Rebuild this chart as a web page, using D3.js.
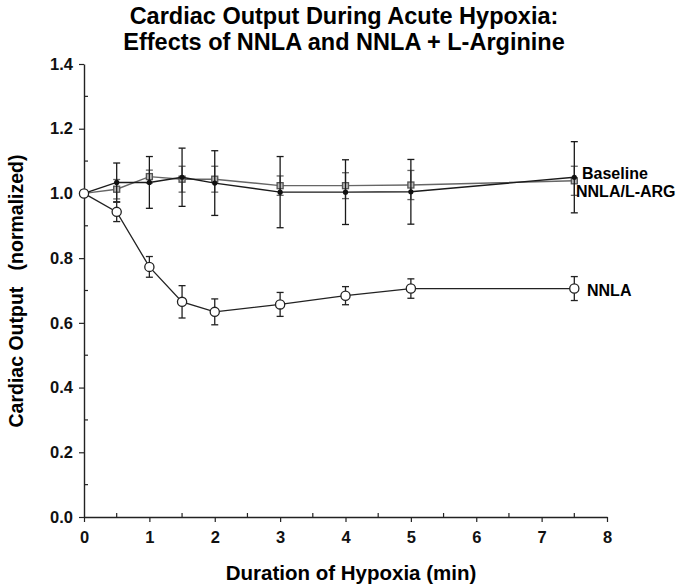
<!DOCTYPE html>
<html><head><meta charset="utf-8">
<script src="https://cdn.jsdelivr.net/npm/d3@7"></script>
<style>body{margin:0;background:#fff}svg{font-family:"Liberation Sans",Arial,sans-serif;font-weight:bold}</style>
</head><body><svg id="c" width="685" height="588"></svg>
<script>
const times = [0, 0.5, 1, 1.5, 2, 3, 4, 5, 7.5];
const baseline = [1.0, 1.034, 1.034, 1.05, 1.032, 1.004, 1.004, 1.005, 1.05];
const baselineErr = [0, 0.06, 0.08, 0.09, 0.10, 0.11, 0.10, 0.10, 0.11];
const nnlaLarg = [1.0, 1.013, 1.052, 1.044, 1.044, 1.024, 1.024, 1.026, 1.039];
const nnlaLargErr = [0, 0.03, 0.02, 0.04, 0.04, 0.03, 0.04, 0.045, 0.045];
const nnla = [1.0, 0.943, 0.773, 0.665, 0.634, 0.657, 0.684, 0.706, 0.706];
const nnlaErr = [0, 0.03, 0.032, 0.05, 0.04, 0.037, 0.028, 0.03, 0.037];
const xTicks = [0,1,2,3,4,5,6,7,8];
const yTicks = [0,0.2,0.4,0.6,0.8,1.0,1.2,1.4];
const titleLines = ["Cardiac Output During Acute Hypoxia:", "Effects of NNLA and NNLA + L-Arginine"];

const svg = d3.select("#c");
const x = d3.scaleLinear().domain([0,8]).range([84,607]);
const y = d3.scaleLinear().domain([0,1.4]).range([517,64]);

// title
svg.selectAll("text.title").data(titleLines).enter().append("text")
  .attr("x",344).attr("y",(d,i)=>24+i*25.5).attr("text-anchor","middle")
  .attr("font-size",23.5).text(d=>d);

// axes
const xAxis = svg.append("g").attr("transform","translate(0,517)")
  .call(d3.axisBottom(x).tickValues(xTicks).tickFormat(d3.format("d")).tickSize(5).tickSizeOuter(0));
const yAxis = svg.append("g").attr("transform","translate(84,0)")
  .call(d3.axisLeft(y).tickValues(yTicks).tickFormat(d3.format(".1f")).tickSize(5).tickSizeOuter(0));
[xAxis,yAxis].forEach(g=>{
  g.select(".domain").attr("stroke","#222").attr("stroke-width",1.4);
  g.selectAll(".tick line").attr("stroke","#222").attr("stroke-width",1.2);
  g.selectAll(".tick text").attr("font-size",16.5).attr("font-weight","bold")
    .attr("font-family","Liberation Sans, Arial, sans-serif").attr("fill","#111");
});
xAxis.selectAll(".tick text").attr("dy","1.1em");
yAxis.selectAll(".tick text").attr("dx","-3");
// minor ticks (inside)
const xMinor = d3.range(0.5,8,1);
svg.append("g").selectAll("line").data(xMinor).enter().append("line")
  .attr("x1",d=>x(d)).attr("x2",d=>x(d)).attr("y1",517).attr("y2",513)
  .attr("stroke","#222").attr("stroke-width",1.2);
const yMinor = d3.range(0.1,1.4,0.2);
svg.append("g").selectAll("line").data(yMinor).enter().append("line")
  .attr("x1",84).attr("x2",88).attr("y1",d=>y(d)).attr("y2",d=>y(d))
  .attr("stroke","#222").attr("stroke-width",1.2);

// axis titles
svg.append("text").attr("x",351).attr("y",580).attr("text-anchor","middle")
  .attr("font-size",20.5).text("Duration of Hypoxia (min)");
svg.append("text").attr("transform","translate(23,291) rotate(-90)").attr("text-anchor","middle")
  .attr("font-size",19.5).attr("xml:space","preserve").text("Cardiac Output   (normalized)");

function series(vals, errs, color, sw){
  const g = svg.append("g");
  const data = times.map((t,i)=>({t, v:vals[i], e:errs[i]}));
  const eb = g.selectAll("g.eb").data(data.filter(d=>d.e>0)).enter().append("g")
    .attr("stroke",color).attr("stroke-width",1.3);
  eb.append("line").attr("x1",d=>x(d.t)).attr("x2",d=>x(d.t)).attr("y1",d=>y(d.v-d.e)).attr("y2",d=>y(d.v+d.e));
  eb.append("line").attr("x1",d=>x(d.t)-3.5).attr("x2",d=>x(d.t)+3.5).attr("y1",d=>y(d.v+d.e)).attr("y2",d=>y(d.v+d.e));
  eb.append("line").attr("x1",d=>x(d.t)-3.5).attr("x2",d=>x(d.t)+3.5).attr("y1",d=>y(d.v-d.e)).attr("y2",d=>y(d.v-d.e));
  g.append("path").datum(data).attr("fill","none").attr("stroke",color).attr("stroke-width",sw)
    .attr("d",d3.line().x(d=>x(d.t)).y(d=>y(d.v)));
  return {g,data};
}
const s2 = series(nnlaLarg, nnlaLargErr, "#666", 1.4);
const s1 = series(baseline, baselineErr, "#1a1a1a", 1.4);
const s3 = series(nnla, nnlaErr, "#222", 1.3);

s2.g.selectAll("rect").data(s2.data).enter().append("rect")
  .attr("x",d=>x(d.t)-3).attr("y",d=>y(d.v)-3).attr("width",6).attr("height",6)
  .attr("fill","#bbb").attr("stroke","#555").attr("stroke-width",1.3);
s1.g.selectAll("circle").data(s1.data).enter().append("circle")
  .attr("cx",d=>x(d.t)).attr("cy",d=>y(d.v)).attr("r",2.6).attr("fill","#111");
s3.g.selectAll("circle").data(s3.data).enter().append("circle")
  .attr("cx",d=>x(d.t)).attr("cy",d=>y(d.v)).attr("r",4.6).attr("fill","#fff")
  .attr("stroke","#222").attr("stroke-width",1.3);

// series labels
svg.append("text").attr("x",582).attr("y",179).attr("font-size",16).text("Baseline");
svg.append("text").attr("x",576).attr("y",197).attr("font-size",16).text("NNLA/L-ARG");
svg.append("text").attr("x",587).attr("y",296).attr("font-size",16).text("NNLA");
</script></body></html>
